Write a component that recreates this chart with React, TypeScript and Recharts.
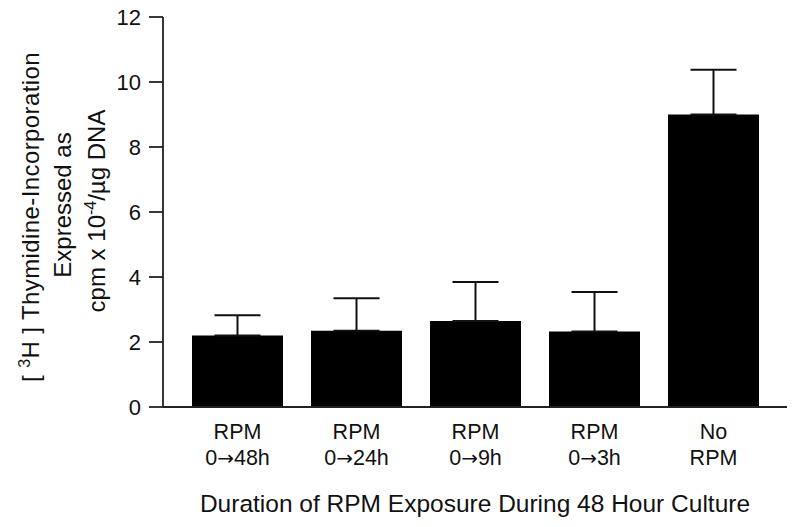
import React from 'react';
import { BarChart, Bar, XAxis, YAxis, ErrorBar } from 'recharts';

const groups = ['RPM|0→48h', 'RPM|0→24h', 'RPM|0→9h', 'RPM|0→3h', 'No|RPM'];
const means = [2.2, 2.35, 2.65, 2.32, 9.0];
const errorsUp = [0.62, 1.0, 1.2, 1.22, 1.38];
const yTicks = [0, 2, 4, 6, 8, 10, 12];

const data = groups.map((g, i) => ({ group: g, value: means[i], err: [0, errorsUp[i]] }));

const FONT = '"Liberation Sans", Arial, Helvetica, sans-serif';
const ARROW_FONT = '"DejaVu Sans", sans-serif';

// second line may hold an arrow, drawn in DejaVu for the long glyph
const renderLine = (s: string) => {
    const parts = s.split('→');
    if (parts.length === 1) return s;
    return (
        <>
            {parts[0]}
            <tspan fontFamily={ARROW_FONT} fontSize={20}>→</tspan>
            {parts[1]}
        </>
    );
};

const CategoryTick = (props: any) => {
    const { x, y, payload } = props;
    const [l1, l2] = String(payload.value).split('|');
    return (
        <text x={x} y={y} textAnchor="middle" fontFamily={FONT} fontSize={21.5} fill="#111">
            <tspan x={x} dy={24}>{l1}</tspan>
            <tspan x={x} dy={26}>{renderLine(l2)}</tspan>
        </text>
    );
};

const YLabel = () => {
    const cx = 39;
    const cy = 212;
    return (
        <text
            x={cx}
            y={cy}
            transform={`rotate(-90, ${cx}, ${cy})`}
            textAnchor="middle"
            fontFamily={FONT}
            fontSize={24}
            fill="#111"
        >
            <tspan x={cx - 5} dy={0} letterSpacing={0.4}>
                [  <tspan fontSize={16} dy={-9}>3</tspan>
                <tspan dy={9}>H  ] Thymidine-Incorporation</tspan>
            </tspan>
            <tspan x={cx + 7} dy={32}>Expressed as</tspan>
            <tspan x={cx + 1} dy={34}>
                cpm x 10<tspan fontSize={16} dy={-9}>-4</tspan>
                <tspan dy={9}>/µg DNA</tspan>
            </tspan>
        </text>
    );
};

const XTitle = (props: any) => {
    const { viewBox } = props;
    const x = viewBox.x + viewBox.width / 2;
    return (
        <text x={x} y={512} textAnchor="middle" fontFamily={FONT} fontSize={24.5} fill="#111">
            Duration of RPM Exposure During 48 Hour Culture
        </text>
    );
};

export default function App() {
    return (
        <div style={{ position: 'absolute', left: 0, top: 0, background: '#fff' }}>
            <BarChart
                width={800}
                height={527}
                data={data}
                margin={{ top: 17, right: 13, bottom: 0, left: 0 }}
            >
                <XAxis
                    dataKey="group"
                    height={120}
                    tick={<CategoryTick />}
                    tickLine={false}
                    axisLine={{ stroke: '#222', strokeWidth: 1.8 }}
                    padding={{ left: 15, right: 14 }}
                    interval={0}
                    label={<XTitle />}
                />
                <YAxis
                    width={163}
                    domain={[0, 12]}
                    ticks={yTicks}
                    interval={0}
                    tickSize={14}
                    tickMargin={8}
                    tick={{ fontFamily: FONT, fontSize: 22, fill: '#111' }}
                    tickLine={{ stroke: '#222', strokeWidth: 1.8 }}
                    axisLine={{ stroke: '#222', strokeWidth: 1.8 }}
                    label={<YLabel />}
                />
                <Bar dataKey="value" fill="#000" barSize={91} isAnimationActive={false}>
                    <ErrorBar dataKey="err" direction="y" width={23} stroke="#111" strokeWidth={2} />
                </Bar>
            </BarChart>
        </div>
    );
}
